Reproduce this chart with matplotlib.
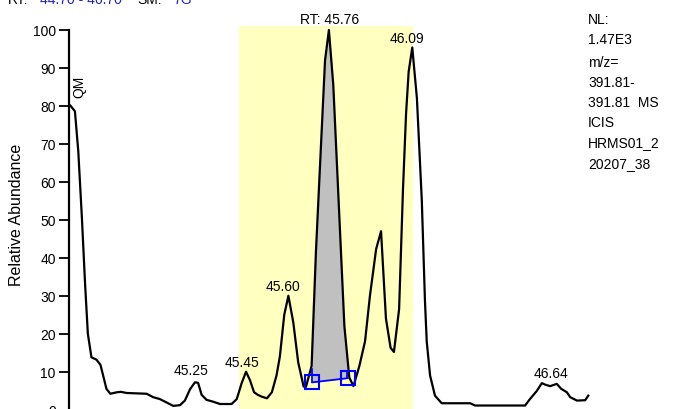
import numpy as np
import matplotlib
matplotlib.use("Agg")
import matplotlib.pyplot as plt
from matplotlib.patches import Rectangle

plt.rcParams['font.family'] = ['Liberation Sans', 'DejaVu Sans']

# ---- data ----
rt = [44.762, 44.766, 44.785, 44.798, 44.812, 44.824, 44.835, 44.849, 44.868, 44.884,
      44.895, 44.907, 44.922, 44.948, 44.963, 44.986, 45.063, 45.088, 45.114, 45.140,
      45.166, 45.192, 45.211, 45.231, 45.250, 45.262, 45.276, 45.295, 45.321, 45.347,
      45.392, 45.412, 45.431, 45.448, 45.463, 45.479, 45.494, 45.510, 45.529, 45.548,
      45.566, 45.579, 45.596, 45.612, 45.631, 45.650, 45.671, 45.680, 45.702, 45.719,
      45.754, 45.769, 45.786, 45.829, 45.848, 45.864, 45.887, 45.909, 45.928, 45.952,
      45.971, 45.990, 46.008, 46.021, 46.041, 46.056, 46.068, 46.078, 46.092, 46.110,
      46.129, 46.141, 46.148, 46.161, 46.180, 46.206, 46.316, 46.335, 46.529, 46.548,
      46.574, 46.594, 46.607, 46.626, 46.652, 46.669, 46.691, 46.704, 46.730, 46.762,
      46.774]
abund = [80.0, 80.2, 78.6, 68.0, 50.5, 33.5, 20.0, 13.8, 13.2, 11.8,
         8.8, 5.5, 4.2, 4.6, 4.7, 4.4, 4.2, 3.3, 2.8, 1.9,
         1.0, 1.2, 2.4, 5.4, 7.2, 7.1, 3.9, 2.6, 2.1, 1.5,
         1.5, 2.8, 7.0, 10.0, 7.8, 4.6, 3.9, 3.4, 3.0, 4.6,
         9.0, 14.0, 25.0, 30.0, 23.0, 12.5, 6.1, 6.0, 11.5, 42.0,
         92.0, 100.0, 85.5, 22.0, 8.5, 6.2, 11.5, 18.0, 30.0, 42.3,
         47.0, 24.0, 16.3, 15.2, 26.5, 58.0, 78.0, 89.0, 95.4, 82.0,
         55.0, 29.0, 18.0, 9.0, 3.7, 1.7, 1.7, 1.1, 1.1, 2.8,
         4.9, 7.0, 6.6, 6.2, 6.8, 5.5, 4.6, 3.3, 2.4, 2.5,
         3.7]

# peak labels
peak_text = ['45.25', '45.45', '45.60', 'RT: 45.76', '46.09', '46.64']
peak_label_rt = [45.234, 45.432, 45.591, 45.771, 46.070, 46.629]
peak_label_y = [9.4, 11.6, 31.6, 101.8, 96.8, 8.5]

# integration window (highlight) and integrated peak baseline
window_rt = [45.420, 46.095]
base_rt = [45.705, 45.842]
base_y = [7.2, 8.3]
tick_top_y = [10.7, 10.2]

info_lines = ['NL:', '1.47E3', 'm/z=', '391.81-', '391.81  MS', 'ICIS', 'HRMS01_2', '20207_38']
info_baseline_px = [24, 44, 67, 87, 107, 127, 147, 168]

yticks = list(range(0, 101, 10))

# ---- figure ----
W, H = 674, 410
fig = plt.figure(figsize=(W / 100, H / 100), dpi=100)
ax_left, ax_right = 69, 595
ax_top, ax_bot = 31, 410.7
ax = fig.add_axes([ax_left / W, (H - ax_bot) / H, (ax_right - ax_left) / W, (ax_bot - ax_top) / H])
ax.set_xlim(44.762, 46.800)
ax.set_ylim(0, 100)

# highlight window
ax.add_patch(Rectangle((window_rt[0], -5), window_rt[1] - window_rt[0], 106.0,
                       facecolor='#ffffc0', edgecolor='none', zorder=0, clip_on=False))

rt_a = np.array(rt)
ab_a = np.array(abund)

# integrated peak fill
g = np.linspace(base_rt[0], base_rt[1], 200)
g = np.unique(np.concatenate([g, rt_a[(rt_a > base_rt[0]) & (rt_a < base_rt[1])]]))
curve_g = np.interp(g, rt_a, ab_a)
base_g = np.interp(g, base_rt, base_y)
ax.fill_between(g, base_g, curve_g, where=curve_g >= base_g, color='#c0c0c0',
                linewidth=0, zorder=1)

ax.plot(rt_a, ab_a, color='black', lw=1.6, zorder=3, clip_on=False, solid_joinstyle='round')

# baseline and boundary markers
ax.plot(base_rt, base_y, color='#0000ff', lw=1.3, zorder=4)
for bx, by, ty in zip(base_rt, base_y, tick_top_y):
    ax.plot([bx - 0.003, bx - 0.003], [by, ty], color='#0000ff', lw=1.3, zorder=4)
ax.plot(base_rt, base_y, linestyle='none', marker='s', markersize=10,
        markerfacecolor='none', markeredgecolor='#0000ff', markeredgewidth=1.5, zorder=5)

for t, x, y in zip(peak_text, peak_label_rt, peak_label_y):
    ax.text(x, y, t, ha='center', va='baseline', fontsize=10, clip_on=False, zorder=6)

ax.text(44.804, 85.2, 'QM', rotation=90, ha='center', va='center', fontsize=10)

# axes styling
for s in ['top', 'right', 'bottom']:
    ax.spines[s].set_visible(False)
ax.spines['left'].set_linewidth(1.6)
ax.set_yticks(yticks)
ax.tick_params(axis='y', direction='out', length=7.5, width=1.3, labelsize=10, pad=2)
ax.set_xticks([])

fig.text(16.5 / W, 1 - 215 / H, 'Relative Abundance', rotation=90, ha='center',
         va='center', fontsize=11.5)

# right-side info
for line, py in zip(info_lines, info_baseline_px):
    fig.text(588 / W, 1 - py / H, line, ha='left', va='baseline', fontsize=10)

# header (cropped at top, as in the reference)
hy = 1 - 4 / H
fig.text(8 / W, hy, 'RT:', ha='left', va='baseline', fontsize=10, color='black')
fig.text(40 / W, hy, '44.70 - 46.70', ha='left', va='baseline', fontsize=10, color='#2020c0')
fig.text(137 / W, hy, 'SM:', ha='left', va='baseline', fontsize=10, color='black')
fig.text(173 / W, hy, '7G', ha='left', va='baseline', fontsize=10, color='#2020c0')

fig.savefig('out.png', dpi=100)
